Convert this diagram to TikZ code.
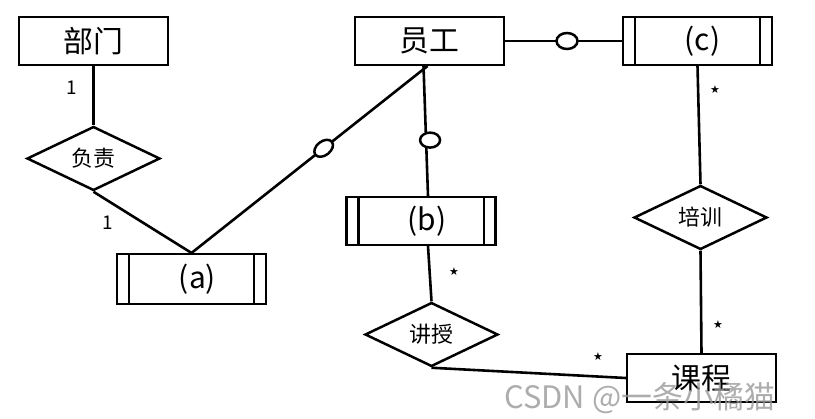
\documentclass[tikz,border=0pt]{standalone}
\usepackage{fontspec}
\setmainfont{Noto Sans CJK SC}
\newfontfamily\symfont{DejaVu Sans}
\usetikzlibrary{shapes.geometric}
\tikzset{
  ent/.style={draw, line width=2.1pt, rectangle, minimum width=149bp, minimum height=48bp, inner sep=0pt, font=\fontsize{30}{32}\selectfont},
  weak/.style={ent},
  rel/.style={draw, line width=2.5pt, diamond, aspect=2, minimum width=133bp, minimum height=64bp, inner sep=0pt, font=\fontsize{22}{24}\selectfont},
  conn/.style={line width=2.6pt},
  card/.style={font=\fontsize{19}{20}\selectfont, inner sep=0pt},
  star/.style={font=\symfont\fontsize{11}{12}\selectfont, inner sep=0pt},
  opt/.style={draw, line width=2.5pt, ellipse, fill=white, inner sep=0pt, minimum width=#1, minimum height=15bp},
}
\begin{document}
\begin{tikzpicture}[x=1bp, y=-1bp]
\useasboundingbox (0,0) rectangle (815,418);
% entities
\node[ent] (bm) at (93.5,41) {部门};
\node[ent] (yg) at (429.5,41) {员工};
\node[weak] (c) at (697.5,41) {\hspace{10bp}(c)};
\node[weak, minimum height=50bp] (a) at (191.5,279) {\hspace{12bp}(a)};
\node[weak] (b) at (421,221) {\hspace{12bp}(b)};
\node[ent] (kc) at (701.5,378) {课程};
% relationships
\node[rel] (fz) at (93.5,158.5) {负责};
\node[rel] (js) at (431.5,334.5) {讲授};
\node[rel] (px) at (700.5,217.5) {培训};
% weak entity inner lines
\foreach \n in {a,b,c}{
  \draw[line width=2.1pt] ([xshift=13bp]\n.north west) -- ([xshift=13bp]\n.south west);
  \draw[line width=2.1pt] ([xshift=-13bp]\n.north east) -- ([xshift=-13bp]\n.south east);
}
% connectors
\coordinate (ygb) at ([xshift=-2bp]yg.south);
\coordinate (ygb2) at ([xshift=-6bp]yg.south);
\draw[conn] (bm.south) -- (fz.north);
\draw[conn] (fz.south) -- (a.north);
\draw[conn] (a.north) -- (ygb) node[opt=21bp, pos=0.56, rotate=38, minimum height=14bp] {};
\draw[conn] (ygb2) -- ([xshift=7bp]b.north) node[opt=20bp, pos=0.57, xshift=4bp] {};
\draw[conn] ([xshift=7bp]b.south) -- (js.north);
\draw[conn] (js.south) -- (kc.west);
\draw[conn] (yg.east) -- (c.west) node[opt=21bp, pos=0.53, minimum height=16bp] {};
\draw[conn] (c.south) -- (px.north);
\draw[conn] (px.south) -- (kc.north);
% cardinalities
\node[card] (l1) at (72,88) {1};
\node[card] (l2) at (108,223) {1};
\node[star] (s1) at (454,272) {★};
\node[star] (s2) at (598,357) {★};
\node[star] (s3) at (715,90) {★};
\node[star] (s4) at (718,325) {★};
% watermark
\node[text=gray!80, opacity=0.8, font=\fontsize{31}{33}\selectfont, inner sep=0pt] (wm) at (640,398) {CSDN @一条小橘猫};
\end{tikzpicture}
\end{document}
